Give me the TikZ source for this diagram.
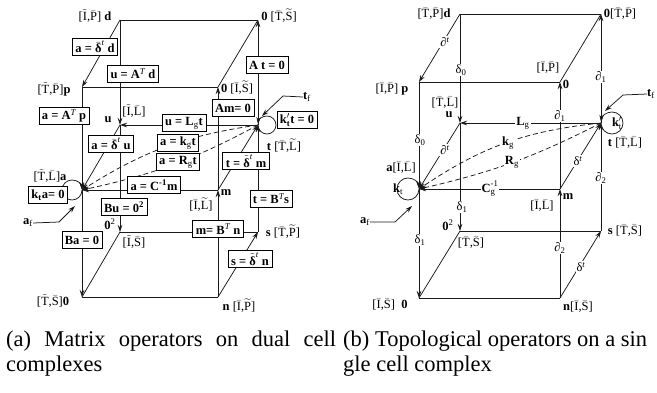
\documentclass[tikz,border=0pt]{standalone}
\usepackage{amsmath}
\usepackage{fontspec}
\setmainfont{Liberation Serif}
\usetikzlibrary{arrows.meta}
\newcommand{\obar}[1]{\ensuremath{\bar{\text{#1}}}}
\newcommand{\otil}[1]{\ensuremath{\tilde{\text{#1}}}}
\newcommand{\owt}[1]{\ensuremath{\widetilde{\text{#1}}}}
\newcommand{\dltb}{\ensuremath{\bar{\text{δ}}^{\text{\mdseries\itshape t}}}}
\newcommand{\dltt}{\ensuremath{\tilde{\text{δ}}^{\text{\mdseries\itshape t}}}}
\newcommand{\supT}{\textsuperscript{\mdseries\itshape T}}
\newcommand{\lblf}{\fontsize{12.5}{14}\selectfont}
\newcommand{\capf}{\fontsize{22.5}{26}\selectfont}
\begin{document}
\begin{tikzpicture}[x=1pt,y=-1pt,
  ln/.style={line width=0.75pt, draw=black!90},
  arr/.style={ln, -{Stealth[length=7pt,width=4.5pt]}},
  dsh/.style={arr, dash pattern=on 5pt off 3pt},
  box/.style={draw=black, line width=0.7pt, fill=white, font=\lblf\bfseries, inner xsep=3pt, inner ysep=1.5pt, minimum height=17pt},
  lab/.style={font=\lblf, inner sep=0pt},
  elab/.style={font=\lblf, fill=white, inner sep=1pt},
  capt/.style={font=\capf, inner sep=0pt, anchor=base west}]
\useasboundingbox (0,0) rectangle (657,392);
\clip (0,0) rectangle (657,392);

% ================= (a) =================
\coordinate (ad) at (120,20);
\coordinate (aTR) at (258,20);
\coordinate (ap) at (82,87);
\coordinate (aFR) at (218,87);
\coordinate (au) at (120,125);
\coordinate (at) at (258,125);
\coordinate (aa) at (82,190);
\coordinate (am) at (218,190);
\coordinate (aS) at (120,232);
\coordinate (as) at (258,232);
\coordinate (aB) at (82,297);
\coordinate (an) at (218,297);

\draw[ln] (ad) -- (aTR);
\draw[ln] (ap) -- (aFR);
\draw[ln] (aFR) -- (aTR);
\draw[ln] (aB) -- (an);
\draw[ln] (aB) -- (aS);
\draw[ln] (aS) -- (as);
\draw[arr] (ad) -- (ap);
\draw[arr] (ad) -- (au);
\draw[arr] (at) -- (aTR);
\draw[arr] (am) -- (aFR);
\draw[arr] (ap) -- (aa);
\draw[arr] (at) -- (au);
\draw[arr] (au) -- (aa);
\draw[arr] (am) -- (at);
\draw[arr] (am) -- (aa);
\draw[dsh] (at) to[bend right=12] (aa);
\draw[dsh] (at) to[bend left=8] (aa);
\draw[arr] (au) -- (aS);
\draw[arr] (aa) -- (aB);
\draw[arr] (an) -- (am);
\draw[arr] (as) -- (at);
\draw[arr] (an) -- (as);
\draw[arr] (at) arc[start angle=180,end angle=-175,radius=9];
\draw[arr] (aa) arc[start angle=0,end angle=355,radius=10];

\node[lab] (tfa) at (307,97) {\textbf{t}\textsubscript{f}};
\coordinate (tfak) at (283,96);
\coordinate (tfae) at (262,116);
\draw[arr] (tfa.west) -- (tfak) -- (tfae);
\node[lab] (afa) at (28,223) {\textbf{a}\textsubscript{f}};
\coordinate (afak) at (59,222);
\coordinate (afae) at (75,206);
\draw[arr] (afa.east) -- (afak) -- (afae);

\node[box] (b1) at (95,47) {a = \dltb{} d};
\node[box] (b2) at (133,74) {u = A\supT{} d};
\node[box] (b3) at (267,65) {A t = 0};
\node[box] (b4) at (64,116) {a = A\supT{} p};
\node[box] (b5) at (233,108) {Am= 0};
\node[box] (b6) at (184,123) {u = L\textsubscript{\mdseries g}t};
\node[box] (b7) at (297,120) {$\text{k}'_{\text{t}}$t = 0};
\node[box] (b8) at (111,144) {a = \dltb{} u};
\node[box] (b9) at (178,143) {a = k\textsubscript{\mdseries g}t};
\node[box] (b10) at (178,162) {a = R\textsubscript{\mdseries g}t};
\node[box] (b11) at (246,161) {t = \dltt{} m};
\node[box] (b12) at (48,195) {k\textsubscript{t}a= 0};
\node[box] (b13) at (154,185) {a = C\textsuperscript{-1}m};
\node[box] (b14) at (124,207) {Bu = 0\textsuperscript{2}};
\node[box] (b15) at (271,199) {t = B\supT{}s};
\node[box] (b16) at (82,240) {Ba = 0};
\node[box] (b17) at (218,229) {m= B\supT{} n};
\node[box] (b18) at (250,259) {s = \dltt{} n};

\node[lab] (la1) at (95,16) {[\otil{I},\obar{P}] \textbf{d}};
\node[lab] (la2) at (279,16) {\textbf{0} [\obar{T},\owt{S}]};
\node[lab] (la3) at (54,89) {[\otil{T},\obar{P}]\textbf{p}};
\node[lab] (la4) at (237,88) {\textbf{0} [\obar{I},\owt{S}]};
\node[lab] (la5) at (108,120) {\textbf{u}};
\node[lab] (la6) at (134,111) {[\otil{I},\obar{L}]};
\node[lab] (la7) at (284,146) {\textbf{t} [\obar{T},\owt{L}]};
\node[lab] (la8) at (50,176) {[\otil{T},\obar{L}]\textbf{a}};
\node[lab] (la9) at (201,205) {[\obar{I},\owt{L}]};
\node[lab] (la10) at (226,193) {\textbf{m}};
\node[lab] (la11) at (110,224) {\textbf{0}\textsuperscript{2}};
\node[lab] (la12) at (134,242) {[\otil{I},\obar{S}]};
\node[lab] (la13) at (283,232) {\textbf{s} [\obar{T},\owt{P}]};
\node[lab] (la14) at (53,301) {[\otil{T},\obar{S}]\textbf{0}};
\node[lab] (la15) at (239,306) {\textbf{n} [\obar{I},\owt{P}]};

% ================= (b) =================
\coordinate (bd) at (460,14);
\coordinate (bTR) at (601,14);
\coordinate (bp) at (419,82);
\coordinate (bFR) at (560,82);
\coordinate (bu) at (460,123);
\coordinate (bt) at (601,123);
\coordinate (ba) at (419,189);
\coordinate (bm) at (560,189);
\coordinate (bS) at (460,231);
\coordinate (bs) at (601,231);
\coordinate (bB) at (419,298);
\coordinate (bn) at (560,298);

\draw[ln] (bd) -- (bTR);
\draw[ln] (bp) -- (bFR);
\draw[ln] (bFR) -- (bTR);
\draw[ln] (bB) -- (bn);
\draw[ln] (bB) -- (bS);
\draw[ln] (bS) -- (bs);
\draw[arr] (bd) -- (bp);
\draw[arr] (bd) -- (bu);
\draw[arr] (bt) -- (bTR);
\draw[arr] (bm) -- (bFR);
\draw[arr] (bp) -- (ba);
\draw[arr] (bt) -- (bu);
\draw[arr] (bu) -- (ba);
\draw[arr] (bm) -- (bt);
\draw[arr] (bm) -- (ba);
\draw[dsh] (bt) to[bend right=14] (ba);
\draw[dsh] (bt) to[bend left=7] (ba);
\draw[arr] (bu) -- (bS);
\draw[arr] (ba) -- (bB);
\draw[arr] (bn) -- (bm);
\draw[arr] (bs) -- (bt);
\draw[arr] (bn) -- (bs);
\draw[arr] (bt) arc[start angle=180,end angle=-175,radius=11];
\draw[arr] (ba) arc[start angle=0,end angle=355,radius=11];

\node[lab] (tfb) at (651,94) {\textbf{t}\textsubscript{f}};
\coordinate (tfbk) at (623,95);
\coordinate (tfbe) at (605,111);
\draw[arr] (tfb.west) -- (tfbk) -- (tfbe);
\node[lab] (afb) at (365,222) {\textbf{a}\textsubscript{f}};
\coordinate (afbk) at (395,222);
\coordinate (afbe) at (412,206);
\draw[arr] (afb.east) -- (afbk) -- (afbe);

\node[elab] (e1) at (445,42) {∂\textsuperscript{\itshape t}};
\node[elab] (e2) at (461,70) {δ\textsubscript{0}};
\node[elab] (e3) at (420,140) {δ\textsubscript{0}};
\node[elab] (e4) at (601,77) {∂\textsubscript{1}};
\node[elab] (e5) at (560,116) {∂\textsubscript{1}};
\node[elab] (e6) at (523,123) {\textbf{L}\textsubscript{g}};
\node[elab] (e7) at (445,150) {∂\textsuperscript{\itshape t}};
\node[elab] (e8) at (578,161) {δ\textsuperscript{\itshape t}};
\node[elab] (e9) at (508,143) {\textbf{k}\textsubscript{g}};
\node[elab] (e10) at (512,162) {\textbf{R}\textsubscript{g}};
\node[elab] (e11) at (490,189) {$\text{\bfseries C}_{\text{g}}^{\text{-1}}$};
\node[elab] (e12) at (462,207) {δ\textsubscript{1}};
\node[elab] (e13) at (420,240) {δ\textsubscript{1}};
\node[elab] (e14) at (560,248) {∂\textsubscript{2}};
\node[elab] (e15) at (601,178) {∂\textsubscript{2}};
\node[elab] (e16) at (581,267) {δ\textsuperscript{\itshape t}};
\node[lab] (e17) at (617,123) {$\text{\bfseries k}'_{\text{t}}$};
\node[lab] (e18) at (398,189) {\textbf{k}\textsubscript{t}};

\node[lab] (lb1) at (434,14) {[\obar{T},\obar{P}]\textbf{d}};
\node[lab] (lb2) at (620,14) {\textbf{0}[\obar{T},\obar{P}]};
\node[lab] (lb3) at (392,89) {[\obar{I},\obar{P}] \textbf{p}};
\node[lab] (lb4) at (548,68) {[\obar{I},\obar{P}]};
\node[lab] (lb5) at (566,84) {\textbf{0}};
\node[lab] (lb6) at (445,103) {[\obar{T},\obar{L}]};
\node[lab] (lb7) at (449,115) {\textbf{u}};
\node[lab] (lb8) at (625,143) {\textbf{t} [\obar{T},\obar{L}]};
\node[lab] (lb9) at (401,168) {\textbf{a}[\obar{I},\obar{L}]};
\node[lab] (lb10) at (542,206) {[\obar{I},\obar{L}]};
\node[lab] (lb11) at (568,197) {\textbf{m}};
\node[lab] (lb12) at (448,225) {\textbf{0}\textsuperscript{2}};
\node[lab] (lb13) at (471,243) {[\obar{T},\obar{S}]};
\node[lab] (lb14) at (625,231) {\textbf{s} [\obar{T},\obar{S}]};
\node[lab] (lb15) at (390,305) {[\obar{I},\obar{S}]\enspace\textbf{0}};
\node[lab] (lb16) at (578,307) {\textbf{n}[\obar{I},\obar{S}]};

% ================= captions =================
\node[capt] (ca1) at (6,346) {\makebox[330pt][s]{(a) Matrix operators on dual cell}};
\node[capt] (ca2) at (6,371) {complexes};
\node[capt] (cb1) at (343,346) {(b) Topological operators on a sin};
\node[capt] (cb2) at (343,371) {gle cell complex};
\end{tikzpicture}
\end{document}
